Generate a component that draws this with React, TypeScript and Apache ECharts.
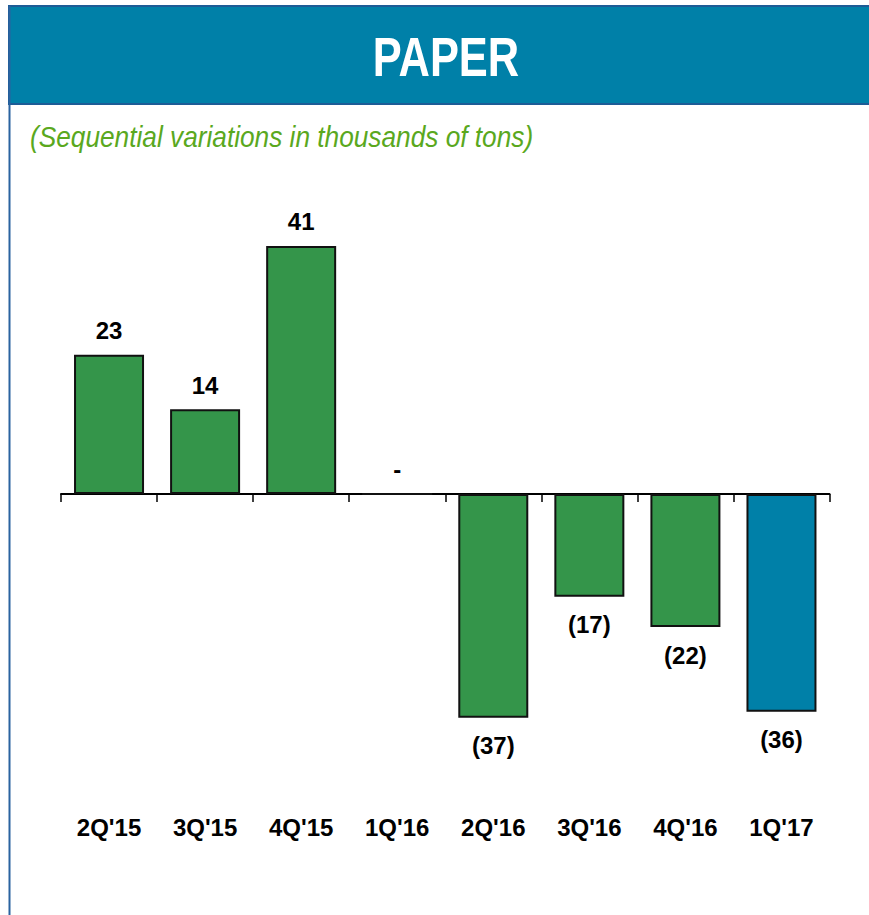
import React, { useEffect, useRef } from "react";
import * as echarts from "echarts";

const categories = ["2Q'15", "3Q'15", "4Q'15", "1Q'16", "2Q'16", "3Q'16", "4Q'16", "1Q'17"];
const values = [23, 14, 41, 0, -37, -17, -22, -36];
const barColors = ["#34954a", "#34954a", "#34954a", "#34954a", "#34954a", "#34954a", "#34954a", "#0080a8"];
const titleText = "PAPER";
const subtitleText = "(Sequential variations in thousands of tons)";

const W = 869;
const H = 915;

export default function App() {
  const ref = useRef<HTMLDivElement>(null);
  useEffect(() => {
    if (!ref.current) return;
    const chart = echarts.init(ref.current, null, { renderer: "svg" });
    const fmt = (v: number) => (v > 0 ? String(v) : v < 0 ? `(${-v})` : "-");
    chart.setOption({
      animation: false,
      backgroundColor: "#ffffff",
      textStyle: { fontFamily: "'Liberation Sans', Arial, sans-serif" },
      graphic: [
        {
          type: "rect",
          shape: { x: 9, y: 6, width: W, height: 98 },
          style: { fill: "#0080a8", stroke: "#1d5c96", lineWidth: 2 },
          silent: true,
        },
        {
          type: "line",
          shape: { x1: 9.5, y1: 6, x2: 9.5, y2: H },
          style: { stroke: "#2a63a0", lineWidth: 2 },
          silent: true,
        },
        {
          type: "text",
          x: 446,
          y: 57,
          scaleX: 0.79,
          style: {
            text: titleText,
            fill: "#ffffff",
            font: "bold 55px 'Liberation Sans', Arial, sans-serif",
            textAlign: "center",
            textVerticalAlign: "middle",
          },
          silent: true,
        },
        {
          type: "text",
          x: 30,
          y: 136,
          scaleX: 0.875,
          style: {
            text: subtitleText,
            fill: "#5aa81e",
            font: "italic 30px 'Liberation Sans', Arial, sans-serif",
            textAlign: "left",
            textVerticalAlign: "middle",
          },
          silent: true,
        },
      ],
      grid: { left: 61, right: 39.5, top: 191.5, bottom: 118.5, containLabel: false },
      xAxis: [
        {
          type: "category",
          data: categories,
          position: "bottom",
          axisLine: { show: true, onZero: true, lineStyle: { color: "#000", width: 2 } },
          axisTick: { show: true, length: 8, alignWithLabel: false, lineStyle: { color: "#000", width: 1.5 } },
          axisLabel: { show: false },
          splitLine: { show: false },
        },
        {
          type: "category",
          data: categories,
          position: "bottom",
          axisLine: { show: false, onZero: false },
          axisTick: { show: false },
          axisLabel: {
            show: true,
            margin: 19,
            color: "#000",
            fontSize: 24,
            fontWeight: "bold",
            fontFamily: "'Liberation Sans', Arial, sans-serif",
          },
          splitLine: { show: false },
        },
      ],
      yAxis: {
        type: "value",
        min: -50,
        max: 50,
        show: false,
        splitLine: { show: false },
      },
      series: [
        {
          type: "bar",
          xAxisIndex: 0,
          barWidth: 70,
          data: values.map((v, i) => ({
            value: v,
            itemStyle: { color: barColors[i], borderColor: "#111", borderWidth: 2 },
            label: {
              show: true,
              position: v < 0 ? "bottom" : "top",
              distance: v < 0 ? 16 : 12,
              formatter: () => fmt(v),
              color: "#000",
              fontSize: 24,
              fontWeight: "bold",
              fontFamily: "'Liberation Sans', Arial, sans-serif",
            },
          })),
        },
      ],
    });
    return () => chart.dispose();
  }, []);
  return (
    <div
      ref={ref}
      style={{ position: "absolute", left: 0, top: 0, width: W, height: H }}
    />
  );
}
